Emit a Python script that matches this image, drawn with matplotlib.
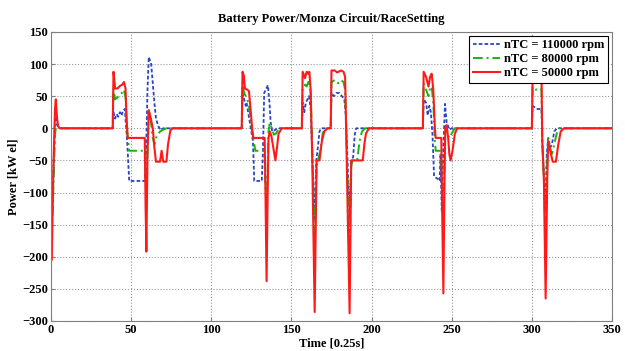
import matplotlib.pyplot as plt

# Data (time in 0.25 s steps, power in kW el)
red_t = [0, 0.5, 1.5, 2.5, 3.0, 3.8, 4.5, 5.5,
         38.5, 39.0, 40.0, 41.5, 43.0, 44.5, 45.5, 46.5, 47.0, 47.8, 58.5, 59.0, 59.5, 60.2, 61.0,
         62.3, 63.5, 64.5, 65.5, 68.0, 69.0, 70.0, 72.0, 73.0, 74.5, 76.0,
         119.0, 119.5, 120.3, 121.0, 122.5, 123.5, 124.5, 125.5, 126.2, 133.3, 133.8, 134.5, 135.2,
         135.7, 136.5, 137.5, 139.0, 140.0, 141.0, 142.0, 144.0,
         156.5, 157.0, 158.5, 159.5, 160.5, 161.2, 162.0, 163.0, 164.5, 165.7, 167.5, 169.0, 170.5,
         172.5, 174.5, 175.0, 177.0, 178.5, 181.0, 182.5, 183.5, 184.5, 186.3, 187.3, 194.5, 195.5,
         196.5, 198.5,
         232.0, 232.5, 234.0, 235.5, 236.5, 237.5, 238.5, 239.5, 240.0, 243.5, 244.0, 244.8, 245.5,
         246.0, 246.8, 247.8, 248.5, 249.3, 250.5, 252.0, 253.5,
         300.0, 300.5, 306.0, 306.5, 307.5, 308.6, 309.6, 310.2, 311.5, 313.0, 315.0, 316.5, 318.0,
         320.0, 350.0]
red_p = [-205, -205, -60, 30, 45, 15, 3, 0,
         0, 88, 62, 62, 66, 68, 72, 62, 25, -15, -15, -120, -192, -40, 28,
         15, 0, -30, -52, -52, -35, -52, -52, -25, -3, 0,
         0, 88, 82, 62, 60, 58, 30, 0, -15, -15, -100, -238, -100,
         -15, -5, -12, -35, -50, -30, -8, 0,
         0, 88, 78, 88, 85, 88, 60, -50, -286, -50, -50, -20, -5,
         0, 0, 90, 90, 87, 90, 88, 80, -50, -288, -50, -50, -25,
         -8, 0,
         0, 88, 80, 65, 80, 85, 60, 0, -15, -15, -120, -257, -80,
         0, 5, -15, -40, -50, -35, -8, 0,
         0, 88, 88, -20, -80, -265, -80, -20, -35, -52, -52, -25, -5,
         0, 0]

green_t = [0, 0.5, 1.5, 2.5, 3.3, 4.2, 5.5,
           38.5, 39.0, 40.0, 41.5, 43.0, 44.5, 45.5, 46.5, 47.3, 48.0, 48.8, 58.5, 59.0, 59.5, 60.2,
           61.0, 62.3, 63.5, 64.5, 65.5, 66.5, 68.0, 70.0, 72.0,
           119.0, 119.5, 120.5, 121.5, 122.5, 123.5, 124.5, 125.5, 126.5, 127.5, 133.3, 133.8, 134.5,
           135.2, 135.7, 136.5, 137.5, 139.0, 140.5, 142.0,
           156.5, 157.0, 158.5, 159.5, 161.0, 162.0, 163.0, 164.5, 165.7, 166.5, 168.0, 169.5, 171.0,
           174.5, 175.0, 177.0, 179.0, 181.0, 182.5, 183.5, 184.5, 186.3, 187.3, 188.0, 191.0, 192.5,
           194.0, 196.0,
           232.0, 232.5, 234.0, 235.5, 236.5, 237.5, 238.5, 239.5, 240.0, 243.5, 244.0, 244.8, 245.5,
           246.0, 246.8, 247.8, 248.8, 250.0, 252.0,
           300.0, 300.5, 302.5, 304.5, 306.0, 306.5, 307.5, 308.5, 309.5, 310.2, 311.3, 312.5, 314.0,
           315.5, 317.0, 350.0]
green_p = [-165, -165, -90, -10, 5, 5, 0,
           0, 62, 45, 48, 52, 56, 60, 48, 0, -15, -35, -35, -80, -118, -40,
           30, 10, -15, -25, -15, -10, -5, -2, 0,
           0, 72, 55, 50, 45, 35, 15, -5, -20, -35, -35, -90, -130,
           -60, -5, 8, 2, -10, -8, 0,
           0, 62, 68, 65, 75, 55, -30, -190, -60, -50, -35, -8, 0,
           0, 72, 75, 70, 75, 72, 60, -30, -190, -60, -50, -50, -20,
           -5, 0,
           0, 70, 60, 50, 62, 65, 40, -20, -35, -35, -90, -150, -60,
           -5, 0, -12, -15, -8, 0,
           0, 65, 60, 62, 62, -20, -80, -165, -60, -15, -30, -40, -25,
           -8, 0, 0]

blue_t = [0, 0.5, 1.5, 2.5, 3.0, 3.8, 5.0,
          38.5, 39.0, 40.0, 41.0, 42.0, 43.0, 44.0, 45.0, 46.0, 46.8, 47.5, 48.8, 57.8, 58.5, 59.3,
          60.2, 61.0, 62.5, 63.5, 64.5, 65.5, 67.0, 68.5, 70.0,
          119.0, 119.5, 120.5, 121.5, 122.0, 123.0, 124.0, 125.0, 126.0, 126.8, 131.5, 132.2, 133.0,
          134.0, 135.3, 136.3, 137.0, 138.0, 139.5, 141.0,
          156.5, 157.0, 158.0, 159.0, 160.0, 161.0, 162.0, 163.0, 164.5, 165.5, 166.5, 167.5, 168.5,
          174.5, 175.0, 176.5, 178.0, 180.0, 181.5, 183.0, 184.0, 185.0, 186.3, 187.3, 188.5, 189.5,
          190.5,
          232.0, 232.5, 234.0, 235.0, 236.0, 237.0, 238.0, 239.0, 242.0, 242.5, 243.0, 243.8, 244.8,
          245.8, 246.8, 247.5, 248.5, 250.0,
          300.0, 300.5, 303.0, 306.0, 306.5, 307.5, 308.3, 309.3, 310.2, 311.5, 312.5, 314.0, 315.5,
          350.0]
blue_p = [-150, -150, -70, 10, 18, 5, 0,
          0, 25, 15, 22, 18, 25, 20, 28, 30, 5, -20, -82, -82, -82, -40,
          60, 111, 100, 70, 40, 15, 3, -3, 0,
          0, 55, 45, 35, 40, 25, 10, -5, -20, -82, -82, -40, 55,
          60, 67, 40, 10, -5, -3, 0,
          0, 40, 25, 40, 45, 50, 30, -40, -140, -50, -30, -5, 0,
          0, 55, 50, 55, 55, 50, 45, 20, -50, -140, -50, -45, -10,
          0,
          0, 45, 40, 20, 35, 25, -10, -75, -80, -82, -40, -130, -30,
          38, 10, 5, -2, 0,
          0, 35, 30, 30, -20, -70, -130, -40, -15, -30, -25, -5, 0,
          0]

x_ticks = [0, 50, 100, 150, 200, 250, 300, 350]
y_ticks = [-300, -250, -200, -150, -100, -50, 0, 50, 100, 150]

plt.rcParams['font.family'] = ['Liberation Serif', 'DejaVu Serif']
plt.rcParams['font.weight'] = 'bold'

fig = plt.figure(figsize=(6.25, 3.51), dpi=100)
ax = fig.add_axes([0.0816, 0.0855, 0.8976, 0.8235])

ax.plot(blue_t, blue_p, color='#2a44c8', lw=1.3, dashes=(2, 1.2), label='nTC = 110000 rpm')
ax.plot(green_t, green_p, color='#12b812', lw=1.4, dashes=(5, 2, 1, 2), label='nTC = 80000 rpm')
ax.plot(red_t, red_p, color='#ff1a1a', lw=1.5, label='nTC = 50000 rpm')

ax.set_xlim(0, 350)
ax.set_ylim(-300, 150)
ax.set_xticks(x_ticks)
ax.set_yticks(y_ticks)
ax.grid(True, color='#999999', linestyle=':', lw=0.8)
ax.tick_params(direction='in', length=3, labelsize=9, color='#808080', pad=2)
for lbl in ax.get_xticklabels() + ax.get_yticklabels():
    lbl.set_fontweight('bold')
for sp in ax.spines.values():
    sp.set_color('#808080')

ax.set_title('Battery Power/Monza Circuit/RaceSetting', fontsize=9, fontweight='bold', pad=7)
ax.set_xlabel('Time [0.25s]', fontsize=9, fontweight='bold', labelpad=1)
ax.set_ylabel('Power [kW el]', fontsize=9, fontweight='bold', labelpad=2)

leg = ax.legend(loc='upper right', fontsize=9, frameon=True, fancybox=False,
                edgecolor='black', framealpha=1, borderaxespad=0.3, handlelength=2.2,
                borderpad=0.3, labelspacing=0.15, handletextpad=0.3)
leg.get_frame().set_linewidth(0.8)

fig.savefig('out.png', dpi=100)
